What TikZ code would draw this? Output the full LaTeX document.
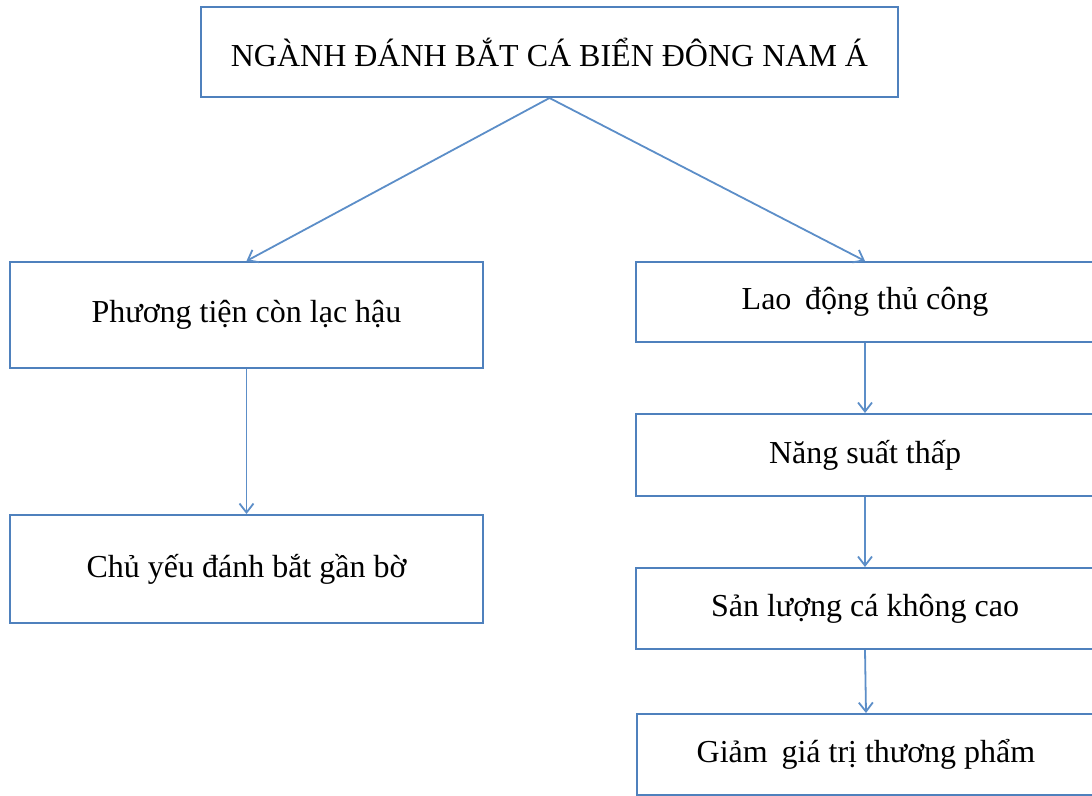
\documentclass[tikz,border=0pt]{standalone}
\usepackage{fontspec}
\setmainfont{Liberation Serif}
\usepackage{xcolor}
\usetikzlibrary{arrows.meta, positioning, calc}
\definecolor{boxblue}{RGB}{79,129,189}
\definecolor{arrowblue}{RGB}{92,142,200}
\newcommand{\gap}{\hspace{0.18em}}
\begin{document}
\begin{tikzpicture}[x=1pt, y=-1pt,
    box/.style={rectangle, draw=boxblue, line width=2pt, fill=white, inner sep=0pt, font=\fontsize{32}{38}\selectfont},
    link/.style={draw=arrowblue, line width=1.8pt, -{Straight Barb[length=9pt, width=14pt, line width=1.8pt]}}]
    \useasboundingbox (0,0) rectangle (1092,795);
    % Nodes
    \node[box, minimum width=697pt, minimum height=90pt] (top) at (549.5, 52) {NGÀNH ĐÁNH BẮT CÁ BIỂN ĐÔNG NAM Á};
    \node[box, minimum width=473pt, minimum height=106pt] (means) at (246.5, 315) {Phương tiện còn lạc hậu};
    \node[box, minimum width=473pt, minimum height=108pt] (shore) at (246.5, 569) {Chủ yếu đánh bắt gần bờ};
    \node[box, minimum width=458pt, minimum height=80pt] (labour) at (865, 302) {Lao \gap động thủ công};
    \node[box, minimum width=458pt, minimum height=82pt] (yield) at (865, 455) {Năng suất thấp};
    \node[box, minimum width=458pt, minimum height=81pt] (catch) at (865, 608.5) {Sản lượng cá không cao};
    \node[box, minimum width=458pt, minimum height=81pt] (value) at (866, 754.5) {Giảm \gap giá trị thương phẩm};

    % Edges
    \draw[link] (top.south) -- (means.north);
    \draw[link] (top.south) -- (labour.north);
    \draw[link] (means.south) -- (shore.north);
    \draw[link] (labour.south) -- (yield.north);
    \draw[link] (yield.south) -- (catch.north);
    \draw[link] (catch.south) -- (value.north);
\end{tikzpicture}
\end{document}
